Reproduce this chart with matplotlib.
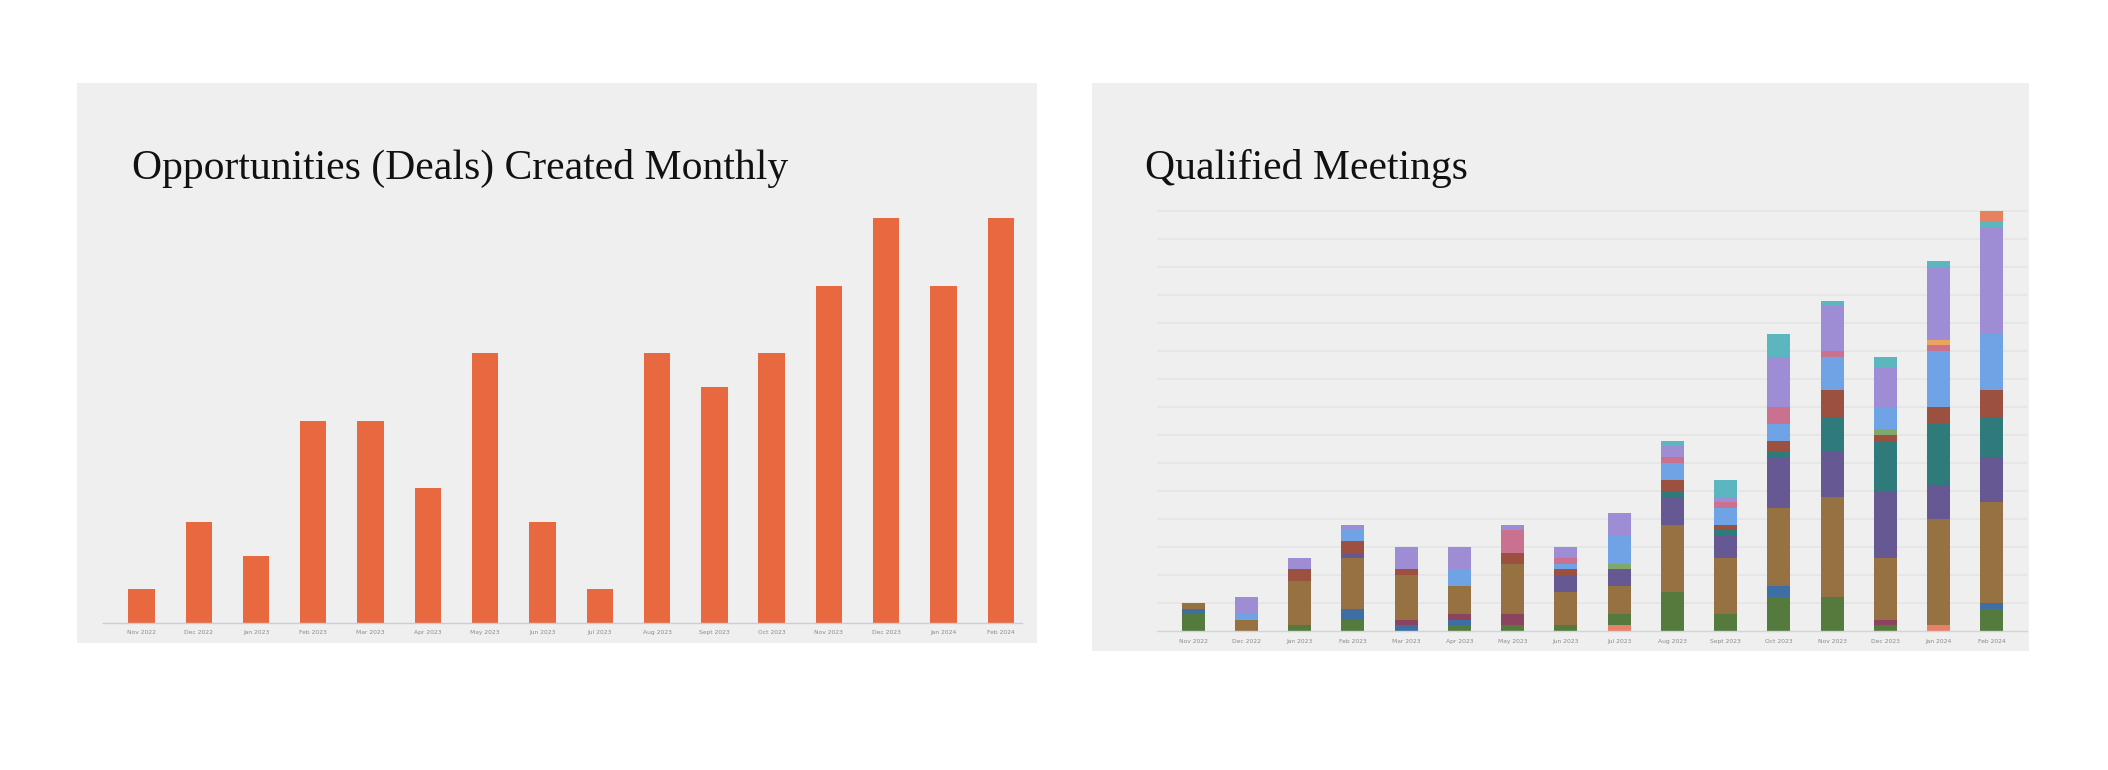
import matplotlib
matplotlib.use("Agg")
import matplotlib.pyplot as plt
from matplotlib.patches import Rectangle
import numpy as np

months = ["Nov 2022", "Dec 2022", "Jan 2023", "Feb 2023", "Mar 2023", "Apr 2023",
          "May 2023", "Jun 2023", "Jul 2023", "Aug 2023", "Sept 2023", "Oct 2023",
          "Nov 2023", "Dec 2023", "Jan 2024", "Feb 2024"]

deals = [1, 3, 2, 6, 6, 4, 8, 3, 1, 8, 7, 8, 10, 12, 10, 12]

# Qualified meetings, stacked series (bottom to top)
salmon_low  = [0, 0, 0, 0, 0, 0, 0, 0, 1, 0, 0, 0, 0, 0, 1, 0]
green       = [3, 0, 1, 2, 0, 1, 1, 1, 2, 7, 3, 6, 6, 1, 0, 4]
steel_blue  = [1, 0, 0, 2, 1, 1, 0, 0, 0, 0, 0, 2, 0, 0, 0, 1]
maroon      = [0, 0, 0, 0, 1, 1, 2, 0, 0, 0, 0, 0, 0, 1, 0, 0]
brown       = [1, 2, 8, 9, 8, 5, 9, 6, 5, 12, 10, 14, 18, 11, 19, 18]
dark_purple = [0, 0, 0, 1, 0, 0, 0, 3, 3, 5, 4, 9, 8, 12, 6, 8]
teal        = [0, 0, 0, 0, 0, 0, 0, 0, 0, 1, 1, 1, 6, 9, 11, 7]
red_brown   = [0, 0, 2, 2, 1, 0, 2, 1, 0, 2, 1, 2, 5, 1, 3, 5]
light_green = [0, 0, 0, 0, 0, 0, 0, 0, 1, 0, 0, 0, 0, 1, 0, 0]
light_blue  = [0, 1, 0, 2, 0, 3, 0, 1, 5, 3, 3, 3, 6, 4, 10, 10]
pink        = [0, 0, 0, 0, 0, 0, 4, 1, 0, 1, 1, 3, 1, 0, 1, 0]
orange      = [0, 0, 0, 0, 0, 0, 0, 0, 0, 0, 0, 0, 0, 0, 1, 0]
lavender    = [0, 3, 2, 1, 4, 4, 1, 2, 4, 2, 1, 9, 8, 7, 13, 19]
cyan        = [0, 0, 0, 0, 0, 0, 0, 0, 0, 1, 3, 4, 1, 2, 1, 1]
salmon_top  = [0, 0, 0, 0, 0, 0, 0, 0, 0, 0, 0, 0, 0, 0, 0, 2]

series = [salmon_low, green, steel_blue, maroon, brown, dark_purple, teal, red_brown,
          light_green, light_blue, pink, orange, lavender, cyan, salmon_top]
colors = ["#e8806a", "#557a3e", "#3e6ea3", "#8c4360", "#967142", "#665892", "#2f7b7b",
          "#9c5040", "#80a86a", "#6fa3e6", "#c9718f", "#eba35e", "#9e8dd5", "#5bb6c0",
          "#e5825f"]

W, H = 2108, 770
fig = plt.figure(figsize=(W / 100, H / 100), dpi=100)
fig.patch.set_facecolor("white")

bg = "#efefef"
# panel backgrounds
fig.patches.append(Rectangle((77 / W, 1 - 643 / H), (1037 - 77) / W, (643 - 83) / H,
                             transform=fig.transFigure, facecolor=bg, edgecolor="none", zorder=-10))
fig.patches.append(Rectangle((1092 / W, 1 - 651 / H), (2029 - 1092) / W, (651 - 83) / H,
                             transform=fig.transFigure, facecolor=bg, edgecolor="none", zorder=-10))

title_font = ["Liberation Serif", "DejaVu Serif"]
fig.text(132 / W, 1 - 179 / H, "Opportunities (Deals) Created Monthly", fontsize=30,
         family=title_font, color="#111111", va="baseline", ha="left")
fig.text(1145 / W, 1 - 179 / H, "Qualified Meetings", fontsize=30,
         family=title_font, color="#111111", va="baseline", ha="left")

x = np.arange(len(months))

# Left chart
ymax_l = 12.3
unit_l = 33.75
axL = fig.add_axes([103 / W, (H - 623) / H, (1022 - 103) / W, ymax_l * unit_l / H])
axL.set_zorder(5)
axL.set_facecolor("none")
axL.bar(x, deals, width=0.46, color="#e8683f", zorder=2)
axL.set_xlim(-0.67, 15.37)
axL.set_ylim(0, ymax_l)
axL.set_yticks([])
axL.set_xticks(x)
axL.set_xticklabels(months, fontsize=4.3, color="#8a8a8a")
axL.tick_params(axis="x", length=0, pad=5)
for s in ["top", "right", "left"]:
    axL.spines[s].set_visible(False)
axL.spines["bottom"].set_color("#c6cde0")
axL.spines["bottom"].set_linewidth(1.0)

# Right chart
ymax_r = 76
unit_r = 5.6
axR = fig.add_axes([1157 / W, (H - 631) / H, (2027 - 1157) / W, ymax_r * unit_r / H])
axR.set_zorder(5)
axR.set_facecolor("none")
bottom = np.zeros(len(months))
for vals, c in zip(series, colors):
    v = np.array(vals, dtype=float)
    axR.bar(x, v, bottom=bottom, width=0.43, color=c, zorder=2)
    bottom += v
axR.set_xlim(-0.68, 15.66)
axR.set_ylim(0, ymax_r)
axR.set_yticks(np.arange(5, 80, 5))
axR.yaxis.grid(True, color="#e5e5e5", linewidth=1.2, zorder=0)
axR.set_axisbelow(True)
axR.tick_params(axis="y", length=0, labelleft=False)
axR.set_xticks(x)
axR.set_xticklabels(months, fontsize=4.3, color="#8a8a8a")
axR.tick_params(axis="x", length=0, pad=6)
for s in ["top", "right", "left"]:
    axR.spines[s].set_visible(False)
axR.spines["bottom"].set_color("#d0d4dc")
axR.spines["bottom"].set_linewidth(1.0)

fig.savefig("out.png", dpi=100, facecolor="white")
